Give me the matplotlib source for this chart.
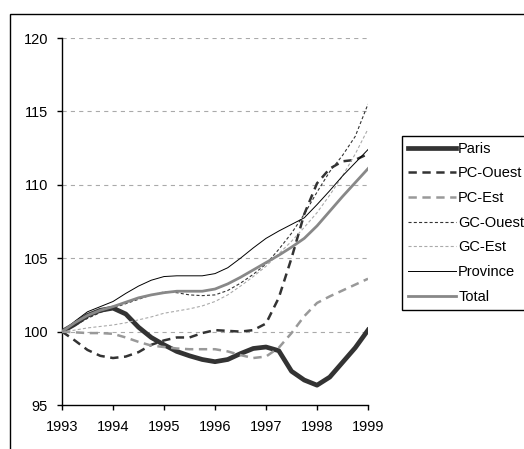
import matplotlib
matplotlib.use("Agg")
import matplotlib.pyplot as plt
from matplotlib.patches import Rectangle

plt.rcParams['font.family'] = ['Liberation Sans', 'DejaVu Sans']
plt.rcParams['lines.scale_dashes'] = False

## quarterly readings, 1993 -> 1999
years = [1993 + q / 4 for q in range(25)]

paris = [100.0, 100.5, 101.1, 101.45, 101.6, 101.2, 100.3, 99.6, 99.1, 98.65, 98.35, 98.1, 97.95,
         98.1, 98.5, 98.85, 98.95, 98.7, 97.3, 96.7, 96.35, 96.9, 97.9, 98.9, 100.1]
pc_ouest = [100.0, 99.4, 98.75, 98.35, 98.2, 98.3, 98.6, 99.1, 99.4, 99.6, 99.6, 99.9, 100.1,
            100.05, 100.0, 100.1, 100.55, 102.3, 105.0, 108.0, 110.1, 111.1, 111.6, 111.7, 112.1]
pc_est = [100.0, 99.95, 99.9, 99.9, 99.85, 99.6, 99.3, 99.05, 98.95, 98.85, 98.8, 98.8, 98.8,
          98.65, 98.4, 98.2, 98.3, 98.9, 99.9, 101.05, 101.95, 102.4, 102.8, 103.2, 103.6]
gc_ouest = [100.0, 100.4, 100.9, 101.3, 101.6, 101.9, 102.2, 102.5, 102.7, 102.65, 102.5, 102.45, 102.5,
            102.8, 103.3, 103.9, 104.6, 105.6, 106.7, 108.0, 109.5, 110.9, 112.0, 113.3, 115.5]
gc_est = [100.0, 100.1, 100.25, 100.35, 100.45, 100.6, 100.8, 101.0, 101.25, 101.4, 101.55, 101.75, 102.05,
          102.5, 103.1, 103.75, 104.45, 105.3, 106.15, 107.1, 108.1, 109.3, 110.6, 112.1, 113.8]
province = [100.0, 100.7, 101.35, 101.7, 102.05, 102.6, 103.1, 103.5, 103.75, 103.8, 103.8, 103.8, 103.95,
            104.35, 105.0, 105.7, 106.35, 106.85, 107.3, 107.75, 108.65, 109.6, 110.6, 111.5, 112.4]
total = [100.0, 100.6, 101.1, 101.45, 101.7, 102.0, 102.3, 102.5, 102.65, 102.75, 102.75, 102.75, 102.9,
         103.25, 103.7, 104.2, 104.7, 105.2, 105.75, 106.35, 107.2, 108.2, 109.2, 110.15, 111.1]

xticks = [1993, 1994, 1995, 1996, 1997, 1998, 1999]
yticks = [95, 100, 105, 110, 115, 120]

fig = plt.figure(figsize=(5.24, 4.49), dpi=100)
ax = fig.add_axes([62 / 524, 1 - 405 / 449, (368 - 62) / 524, (405 - 38) / 449])

# outer frame (runs off the right and bottom edges)
top = 1 - 14.5 / 449
fig.patches.append(Rectangle((9.5 / 524, -0.2), 1.2, top + 0.2, transform=fig.transFigure,
                             fill=False, edgecolor='black', linewidth=1.0))

for v in yticks[1:]:
    ax.axhline(v, color='#aaaaaa', linewidth=0.8, dashes=(3, 3), zorder=1)

ax.plot(years, paris, color='#333333', linewidth=3.4, label='Paris', zorder=3)
ax.plot(years, pc_ouest, color='#333333', linewidth=1.8, dashes=(6, 4), label='PC-Ouest', zorder=3)
ax.plot(years, pc_est, color='#999999', linewidth=1.8, dashes=(6, 4), label='PC-Est', zorder=3)
ax.plot(years, gc_ouest, color='#333333', linewidth=0.8, dashes=(2.2, 1.6), label='GC-Ouest', zorder=3)
ax.plot(years, gc_est, color='#aaaaaa', linewidth=0.8, dashes=(2.2, 1.6), label='GC-Est', zorder=3)
ax.plot(years, province, color='black', linewidth=0.7, label='Province', zorder=3)
ax.plot(years, total, color='#888888', linewidth=2.0, label='Total', zorder=3)

ax.set_xlim(1993, 1999)
ax.set_ylim(95, 120)
ax.set_xticks(xticks)
ax.set_yticks(yticks)
ax.tick_params(direction='out', length=3.5, width=1, labelsize=10.5, colors='black')
ax.tick_params(axis='x', pad=7.5)
ax.tick_params(axis='y', pad=6.5)
for s in ['top', 'right']:
    ax.spines[s].set_visible(False)
for s in ['left', 'bottom']:
    ax.spines[s].set_linewidth(1.0)
ax.spines['bottom'].set_zorder(4)

fig.legend(loc='upper left', bbox_to_anchor=(402 / 524, 1 - 136 / 449), bbox_transform=fig.transFigure,
           borderaxespad=0, frameon=True, fancybox=False, edgecolor='black', framealpha=1,
           fontsize=10.5, handlelength=3.3, handletextpad=0.15, labelspacing=0.73, borderpad=0.4)
fig.legends[0].get_frame().set_linewidth(1.0)

fig.savefig("out.png", dpi=100)
